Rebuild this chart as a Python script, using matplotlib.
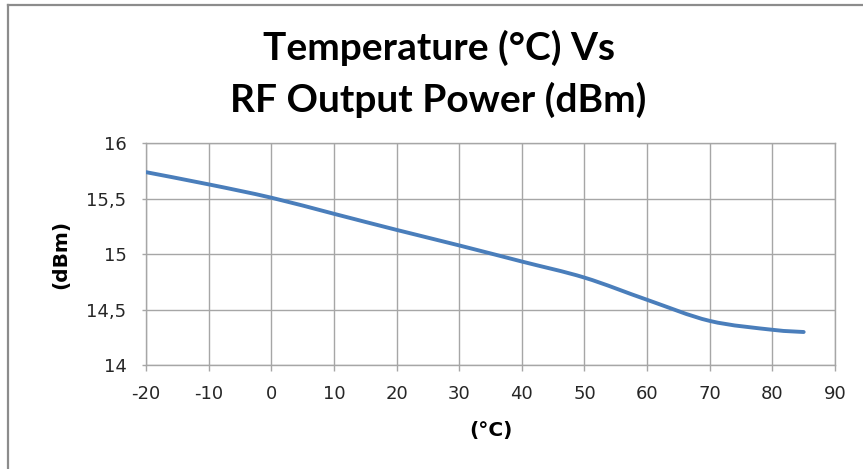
import matplotlib
matplotlib.use("Agg")
import matplotlib.pyplot as plt
from matplotlib.lines import Line2D
from matplotlib.path import Path
from matplotlib.patches import PathPatch
from matplotlib.ticker import FuncFormatter

# Data
temperature_c = [-20, -10, 0, 10, 20, 30, 40, 50, 60, 70, 80, 85]
power_dbm = [15.74, 15.63, 15.51, 15.365, 15.22, 15.08, 14.935, 14.79, 14.59, 14.40, 14.32, 14.30]

x_ticks = [-20, -10, 0, 10, 20, 30, 40, 50, 60, 70, 80, 90]
y_ticks = [14, 14.5, 15, 15.5, 16]

title_lines = ["Temperature (°C) Vs", "RF Output Power (dBm)"]
x_label = "(°C)"
y_label = "(dBm)"

plt.rcParams['font.family'] = ['Lato', 'DejaVu Sans']
plt.rcParams['axes.unicode_minus'] = False

W, H = 863, 469
fig = plt.figure(figsize=(W / 100, H / 100), dpi=100)
fig.patch.set_facecolor('white')

# outer chart frame (top and left edges visible)
frame_col = '#8c8c8c'
fig.add_artist(Line2D([8 / W, 1.0], [1 - 5 / H, 1 - 5 / H], transform=fig.transFigure,
                      color=frame_col, lw=1.6))
fig.add_artist(Line2D([8 / W, 8 / W], [0.0, 1 - 5 / H], transform=fig.transFigure,
                      color=frame_col, lw=1.6))

ax = fig.add_axes([146 / W, 1 - 365.3 / H, (835 - 146) / W, (365.3 - 143.3) / H])

# smoothed line (Excel-style) through the data points, drawn as Bezier path in data coords
pts = list(zip(temperature_c, power_dbm))
verts = [pts[0]]
codes = [Path.MOVETO]
tension = 1 / 6
for i in range(len(pts) - 1):
    p0 = pts[i - 1] if i > 0 else pts[i]
    p1 = pts[i]
    p2 = pts[i + 1]
    p3 = pts[i + 2] if i + 2 < len(pts) else pts[i + 1]
    c1 = (p1[0] + (p2[0] - p0[0]) * tension, p1[1] + (p2[1] - p0[1]) * tension)
    c2 = (p2[0] - (p3[0] - p1[0]) * tension, p2[1] - (p3[1] - p1[1]) * tension)
    verts += [c1, c2, p2]
    codes += [Path.CURVE4, Path.CURVE4, Path.CURVE4]
ax.add_patch(PathPatch(Path(verts, codes), facecolor='none', edgecolor='#4a7ebb',
                       lw=2.8, capstyle='round', joinstyle='round', zorder=3))

grid_col = '#a6a6a6'
ax.set_xlim(-20, 90)
ax.set_ylim(14, 16)
ax.set_xticks(x_ticks)
ax.set_yticks(y_ticks)
ax.yaxis.set_major_formatter(FuncFormatter(lambda v, p: ('%g' % v).replace('.', ',')))

ax.grid(True, color=grid_col, lw=1.0)
ax.set_axisbelow(True)
for s in ax.spines.values():
    s.set_color(grid_col)
    s.set_linewidth(1.0)

ax.tick_params(axis='x', direction='out', length=4, width=1.0, color=grid_col,
               pad=10, labelcolor='#262626')
ax.tick_params(axis='y', direction='out', length=3, width=1.0, color=grid_col,
               pad=11, labelcolor='#262626')
for lab in ax.get_xticklabels() + ax.get_yticklabels():
    lab.set_fontfamily(['DejaVu Sans'])
    lab.set_fontsize(13)

ax.set_xlabel(x_label, fontsize=14.5, fontweight='bold', family=['DejaVu Sans'], labelpad=13)
ax.set_ylabel(y_label, fontsize=14.5, fontweight='bold', family=['DejaVu Sans'], labelpad=12)

fig.text(439 / W, 1 - 60 / H, title_lines[0], ha='center', va='baseline',
         fontsize=28, fontweight='bold', color='black')
fig.text(438 / W, 1 - 112 / H, title_lines[1], ha='center', va='baseline',
         fontsize=28, fontweight='bold', color='black')

fig.savefig('out.png', dpi=100, facecolor='white')
